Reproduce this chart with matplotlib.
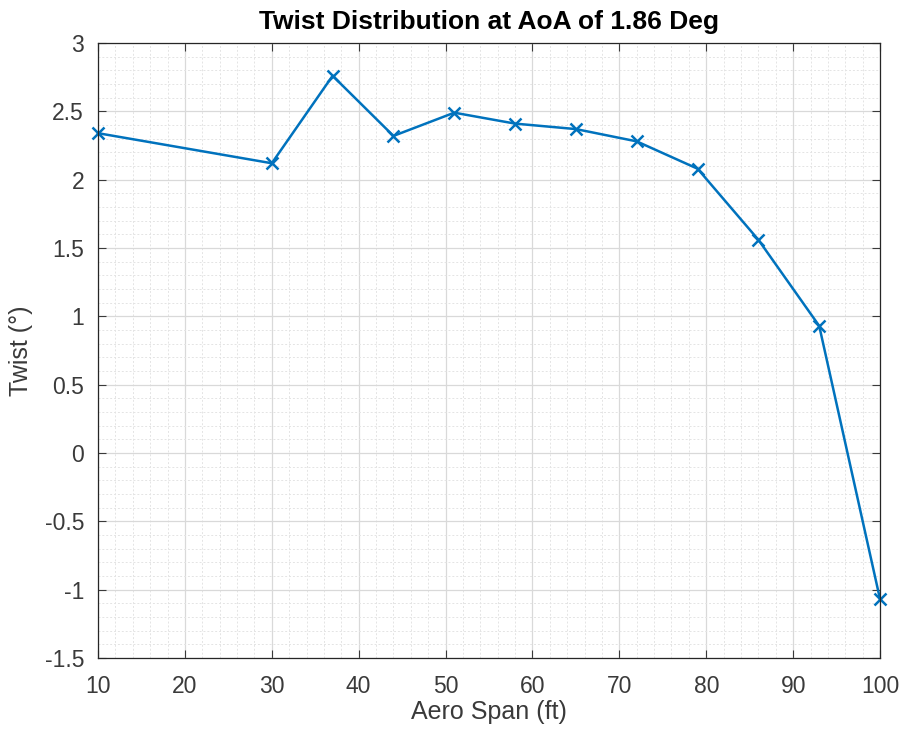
import matplotlib
matplotlib.use("Agg")
import matplotlib.pyplot as plt
from matplotlib.ticker import MultipleLocator

# Spanwise stations and twist values
span_ft = [10, 30, 37, 44, 51, 58, 65, 72, 79, 86, 93, 100]
twist_deg = [2.34, 2.12, 2.76, 2.32, 2.49, 2.41, 2.37, 2.28, 2.08, 1.56, 0.93, -1.07]

x_ticks = [10, 20, 30, 40, 50, 60, 70, 80, 90, 100]
y_ticks = [-1.5, -1, -0.5, 0, 0.5, 1, 1.5, 2, 2.5, 3]
y_tick_labels = ["-1.5", "-1", "-0.5", "0", "0.5", "1", "1.5", "2", "2.5", "3"]

plt.rcParams["font.family"] = ["Liberation Sans", "DejaVu Sans"]

fig = plt.figure(figsize=(9.04, 7.36), dpi=100)
ax = fig.add_axes([0.1084, 0.106, 0.8651, 0.8356])

ax.plot(span_ft, twist_deg, color="#0072BD", linewidth=1.8,
        marker="x", markersize=8, markeredgewidth=1.8, clip_on=False)

ax.set_xlim(10, 100)
ax.set_ylim(-1.5, 3)
ax.set_xticks(x_ticks)
ax.set_yticks(y_ticks)
ax.set_yticklabels(y_tick_labels)
ax.xaxis.set_minor_locator(MultipleLocator(2))
ax.yaxis.set_minor_locator(MultipleLocator(0.1))

ax.grid(which="major", color="#d9d9d9", linewidth=0.9)
ax.grid(which="minor", color="#e4e4e4", linewidth=0.7, linestyle=(0, (2, 2)))
ax.set_axisbelow(True)

ax.tick_params(which="major", direction="in", length=6, width=0.8,
               labelsize=16.5, colors="#3a3a3a", top=True, right=True)
ax.tick_params(axis="x", pad=12)
ax.tick_params(axis="y", pad=10)
ax.tick_params(which="minor", length=0)
for s in ax.spines.values():
    s.set_color("#262626")
    s.set_linewidth(0.9)

ax.set_xlabel("Aero Span (ft)", fontsize=18, color="#3a3a3a", labelpad=2)
ax.set_ylabel("Twist (°)", fontsize=18, color="#3a3a3a", labelpad=8)
ax.set_title("Twist Distribution at AoA of 1.86 Deg", fontsize=19,
             fontweight="bold", color="black", pad=10)

fig.savefig("out.png", dpi=100, facecolor="white")
